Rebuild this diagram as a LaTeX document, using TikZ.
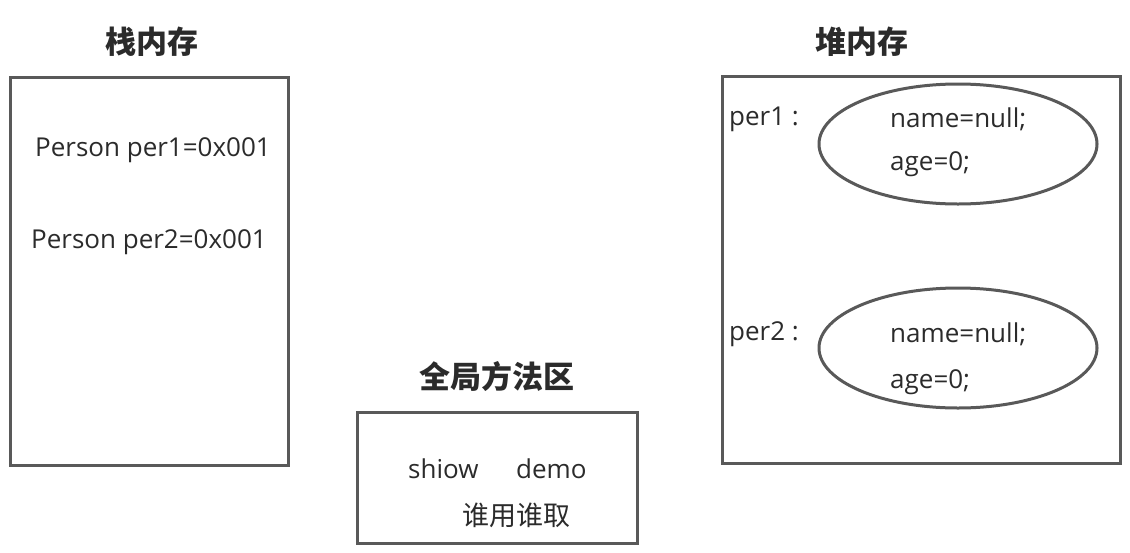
\documentclass[tikz,border=0pt]{standalone}
\usepackage{fontspec}
\setmainfont{Open Sans}
\newfontfamily\cjk{Noto Sans CJK SC}
\usetikzlibrary{shapes.geometric}
\definecolor{linegray}{HTML}{595959}
\definecolor{textgray}{HTML}{2B2B2B}
\tikzset{
  membox/.style={draw=linegray, line width=3pt, rectangle, inner sep=0pt},
  objellipse/.style={draw=linegray, line width=3pt, ellipse, inner sep=0pt,
    minimum width=278pt, minimum height=120pt},
  areatitle/.style={text=textgray, font=\cjk\bfseries\fontsize{31}{36}\selectfont},
  txt/.style={text=textgray, font=\fontsize{26}{31}\selectfont, anchor=west, inner sep=0pt},
}
\begin{document}
\begin{tikzpicture}[x=1pt,y=-1pt]
  \useasboundingbox (0,0) rectangle (1130,552);
  % stack
  \node[areatitle] (stacktitle) at (152,42) {栈内存};
  \node[membox, minimum width=278pt, minimum height=388pt] (stack) at (149,271) {};
  \node[txt] (ref1) at (35,150) {Person per1=0x001};
  \node[txt] (ref2) at (31,242) {Person per2=0x001};
  % heap
  \node[areatitle] (heaptitle) at (862,42) {堆内存};
  \node[membox, minimum width=398pt, minimum height=387pt] (heap) at (921,270) {};
  \foreach \name/\cy/\ny/\ay in {per1/144/119/164, per2/348/334/382}
  { \node[objellipse] (\name obj) at (958,\cy) {};
    \node[txt] (\name lbl) at (729,\ny) {\name\ :};
    \node[txt] (\name name) at (890,\ny) {name=null;};
    \node[txt] (\name age) at (890,\ay) {age=0;};
  }
  % method area
  \node[areatitle] (methodtitle) at (497,377) {全局方法区};
  \node[membox, minimum width=280pt, minimum height=131pt] (method) at (497,477.5) {};
  \node[txt] (shiow) at (408,469) {shiow};
  \node[txt] (demo) at (516,469) {demo};
  \node[txt, anchor=center, font=\cjk\fontsize{27}{32}\selectfont] (rule) at (516,515) {谁用谁取};
\end{tikzpicture}
\end{document}
